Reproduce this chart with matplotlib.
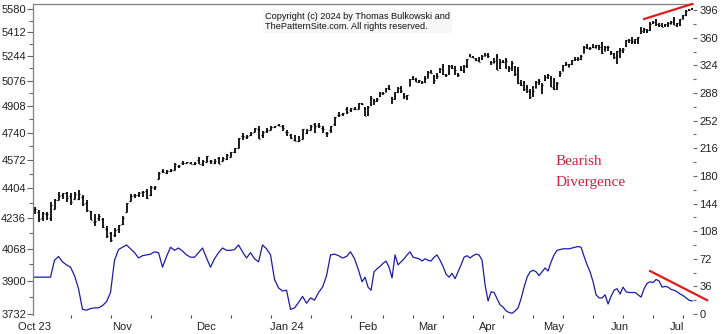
import numpy as np
import matplotlib
matplotlib.use('Agg')
import matplotlib.pyplot as plt
from matplotlib.ticker import FixedLocator, NullFormatter

plt.rcParams['font.family'] = ['Liberation Sans', 'DejaVu Sans']

# Month labels and number of trading days in each month
months = ['Oct 23', 'Nov', 'Dec', 'Jan 24', 'Feb', 'Mar', 'Apr', 'May', 'Jun', 'Jul']
month_days = [22, 21, 20, 21, 20, 20, 22, 22, 19, 6]

# Daily OHLC of the index, Oct 2023 to Jul 2024
opens = [
    4284, 4269, 4234, 4259, 4234, 4289, 4339, 4367, 4380, 4360, 4342, 4346, 4357, 4322, 4273, 4211, 4236, 4232, 4176, 4153, 4140, 4172,
    4201, 4269, 4334, 4365, 4366, 4385, 4391, 4365, 4406, 4458, 4505, 4497, 4509, 4512, 4539, 4553, 4555, 4555, 4546, 4571, 4548,
    4560, 4564, 4557, 4587, 4568, 4577, 4593, 4618, 4646, 4721, 4715, 4725, 4744, 4764, 4725, 4753, 4758, 4774, 4786, 4783,
    4746, 4725, 4697, 4690, 4703, 4741, 4760, 4793, 4791, 4772, 4739, 4760, 4796, 4854, 4856, 4888, 4886, 4888, 4893, 4925, 4899,
    4862, 4916, 4950, 4951, 4974, 4995, 5004, 5026, 4968, 4976, 5004, 5031, 4989, 4963, 5039, 5100, 5093, 5074, 5067, 5085,
    5098, 5131, 5110, 5108, 5132, 5173, 5112, 5134, 5173, 5175, 5124, 5154, 5139, 5182, 5254, 5243, 5219, 5228, 5226, 5248,
    5258, 5204, 5194, 5244, 5159, 5211, 5226, 5158, 5172, 5171, 5149, 5064, 5068, 5032, 5006, 4988, 5029, 5084, 5019, 5084, 5114, 5098,
    5030, 5050, 5122, 5142, 5187, 5170, 5189, 5225, 5233, 5221, 5263, 5310, 5303, 5305, 5298, 5320, 5340, 5281, 5315, 5278, 5260, 5244,
    5284, 5275, 5315, 5357, 5343, 5341, 5353, 5409, 5441, 5424, 5431, 5477, 5499, 5466, 5459, 5460, 5460, 5473, 5499,
    5471, 5461, 5507, 5537, 5572, 5585]
highs = [
    4300, 4281, 4268, 4267, 4324, 4341, 4385, 4378, 4386, 4378, 4383, 4394, 4364, 4340, 4276, 4256, 4259, 4233, 4191, 4156, 4178, 4194,
    4245, 4319, 4374, 4372, 4386, 4391, 4400, 4418, 4421, 4503, 4521, 4511, 4521, 4557, 4542, 4568, 4560, 4562, 4562, 4588, 4570,
    4599, 4574, 4579, 4590, 4590, 4610, 4623, 4644, 4709, 4738, 4726, 4747, 4768, 4779, 4748, 4772, 4785, 4785, 4793, 4789,
    4755, 4730, 4727, 4721, 4764, 4765, 4790, 4799, 4803, 4782, 4745, 4784, 4842, 4869, 4866, 4903, 4898, 4906, 4929, 4932, 4906,
    4911, 4975, 4957, 4964, 5000, 5003, 5030, 5048, 4971, 5003, 5032, 5039, 4994, 4983, 5088, 5111, 5097, 5080, 5077, 5105,
    5140, 5149, 5114, 5127, 5165, 5190, 5125, 5180, 5180, 5179, 5128, 5176, 5180, 5225, 5261, 5246, 5230, 5236, 5249, 5264,
    5263, 5208, 5228, 5256, 5222, 5219, 5228, 5178, 5212, 5175, 5168, 5079, 5077, 5046, 5020, 5038, 5077, 5089, 5058, 5114, 5123, 5111,
    5096, 5070, 5140, 5181, 5200, 5191, 5215, 5240, 5237, 5250, 5311, 5325, 5306, 5325, 5324, 5323, 5342, 5311, 5315, 5282, 5262, 5280,
    5303, 5298, 5354, 5362, 5375, 5365, 5376, 5447, 5442, 5432, 5488, 5490, 5506, 5479, 5478, 5472, 5483, 5491, 5524,
    5480, 5509, 5539, 5570, 5583, 5590]
lows = [
    4260, 4216, 4220, 4225, 4219, 4284, 4339, 4345, 4325, 4311, 4342, 4339, 4303, 4269, 4223, 4190, 4220, 4182, 4127, 4103, 4132, 4153,
    4197, 4269, 4334, 4347, 4353, 4355, 4344, 4359, 4394, 4458, 4495, 4488, 4500, 4510, 4525, 4545, 4552, 4546, 4540, 4547, 4538,
    4558, 4546, 4551, 4547, 4565, 4574, 4593, 4615, 4643, 4694, 4700, 4721, 4743, 4698, 4709, 4736, 4758, 4768, 4781, 4752,
    4722, 4700, 4687, 4682, 4699, 4730, 4756, 4740, 4769, 4740, 4715, 4740, 4785, 4840, 4844, 4860, 4869, 4881, 4888, 4917, 4845,
    4846, 4907, 4918, 4939, 4969, 4983, 5000, 5016, 4920, 4952, 4998, 4998, 4955, 4946, 5039, 5082, 5068, 5058, 5057, 5061,
    5094, 5127, 5056, 5091, 5131, 5117, 5102, 5115, 5155, 5117, 5104, 5145, 5131, 5161, 5240, 5229, 5213, 5203, 5214, 5246,
    5229, 5185, 5194, 5146, 5157, 5198, 5158, 5138, 5139, 5107, 5052, 5039, 5007, 4998, 4953, 4969, 5027, 5047, 4990, 5073, 5089, 5035,
    5013, 5012, 5103, 5142, 5178, 5166, 5182, 5208, 5211, 5217, 5263, 5296, 5284, 5300, 5297, 5287, 5257, 5279, 5280, 5250, 5222, 5191,
    5234, 5266, 5304, 5335, 5331, 5331, 5327, 5402, 5404, 5403, 5420, 5468, 5455, 5452, 5447, 5446, 5451, 5468, 5460,
    5446, 5458, 5507, 5531, 5563, 5574]
closes = [
    4288, 4229, 4263, 4258, 4308, 4336, 4358, 4377, 4350, 4327, 4374, 4373, 4314, 4278, 4224, 4217, 4248, 4186, 4137, 4117, 4167, 4194,
    4238, 4318, 4358, 4365, 4378, 4383, 4347, 4415, 4412, 4496, 4503, 4509, 4514, 4547, 4538, 4557, 4559, 4551, 4555, 4551, 4568,
    4595, 4569, 4567, 4549, 4585, 4604, 4622, 4644, 4707, 4720, 4719, 4741, 4768, 4698, 4747, 4755, 4775, 4781, 4783, 4770,
    4743, 4705, 4689, 4697, 4764, 4757, 4783, 4780, 4784, 4766, 4739, 4781, 4840, 4851, 4865, 4869, 4895, 4891, 4928, 4925, 4846,
    4906, 4959, 4943, 4954, 4995, 4998, 5027, 5022, 4953, 5001, 5030, 5006, 4976, 4982, 5087, 5089, 5070, 5078, 5070, 5096,
    5137, 5131, 5079, 5105, 5157, 5124, 5117, 5175, 5165, 5150, 5117, 5149, 5179, 5225, 5241, 5234, 5218, 5204, 5248, 5254,
    5243, 5205, 5211, 5147, 5204, 5202, 5210, 5161, 5199, 5123, 5062, 5051, 5022, 5011, 4967, 5010, 5070, 5072, 5048, 5100, 5116, 5036,
    5018, 5064, 5128, 5181, 5187, 5188, 5214, 5223, 5221, 5247, 5308, 5297, 5303, 5308, 5321, 5307, 5268, 5305, 5306, 5267, 5236, 5278,
    5283, 5291, 5354, 5353, 5347, 5361, 5375, 5421, 5434, 5431, 5473, 5487, 5473, 5465, 5448, 5469, 5478, 5483, 5460,
    5475, 5509, 5537, 5567, 5572, 5577]

# Oscillator (right scale)
osc = [
    48, 48, 48, 48, 48, 70, 75, 68, 64, 61, 50, 33, 6, 5, 7, 8, 8, 11, 16, 28,
    70, 84, 87, 90, 85, 80, 73, 76, 77, 78, 81, 80, 61, 75, 87, 83, 86, 82, 77, 74,
    74, 80, 86, 73, 61, 72, 80, 86, 83, 83, 84, 90, 81, 73, 80, 72, 68, 90, 85, 77,
    45, 34, 30, 31, 6, 8, 15, 23, 14, 21, 18, 28, 35, 50, 77, 78, 76, 73, 75, 81,
    72, 57, 42, 48, 35, 31, 55, 59, 62, 66, 69, 61, 47, 77, 64, 68, 72, 77, 81, 74,
    73, 72, 69, 72, 70, 69, 74, 77, 70, 62, 52, 48, 53, 46, 55, 64, 74, 76, 73, 76,
    78, 77, 70, 38, 17, 29, 28, 20, 12, 9, 4, 2, 1, 4, 8, 20, 35, 48, 55, 57,
    55, 50, 55, 60, 56, 68, 77, 83, 84, 85, 85, 85, 86, 87, 88, 87, 75, 64, 55, 42,
    25, 21, 21, 25, 13, 23, 31, 33, 26, 35, 29, 28, 28, 28, 25, 22, 33, 40, 42, 41,
    45, 43, 35, 36, 35, 32, 31, 29, 26, 24, 21, 18, 17]

price_ticks = [3732, 3900, 4068, 4236, 4404, 4572, 4740, 4908, 5076, 5244, 5412, 5580]
osc_ticks = [0, 36, 72, 108, 144, 180, 216, 252, 288, 324, 360, 396]

# divergence trend lines: bar index and value at each end
div_price_x = [176, 192]
div_price_y = [5507, 5617]
div_osc_x = [178, 197]
div_osc_y = [56, 18]

n = len(closes)
idx = np.arange(n)
month_starts = np.concatenate([[0], np.cumsum(month_days)[:-1]])

# bars after the start of February are packed tighter (3 px instead of 4 px)
KINK = 81.5
SQUEEZE = 0.75


def fwd(x):
    x = np.asarray(x, dtype=float)
    return np.where(x < KINK, x, KINK + (x - KINK) * SQUEEZE)


def inv(y):
    y = np.asarray(y, dtype=float)
    return np.where(y < KINK, y, KINK + (y - KINK) / SQUEEZE)


fig = plt.figure(figsize=(7.25, 3.34), dpi=100)
ax = fig.add_axes([33 / 725, 19 / 334, 660 / 725, 311 / 334])
ax.set_xscale('function', functions=(fwd, inv))
ax.set_yscale('log')

# OHLC bars
ax.vlines(idx, lows, highs, color='black', lw=1.25)
ax.hlines(opens, idx - 0.35, idx, color='black', lw=0.9)
ax.hlines(closes, idx, idx + 0.35, color='black', lw=0.9)
ax.plot(div_price_x, div_price_y, color='#e01c1c', lw=1.6, clip_on=False, zorder=5)

ax.set_xlim(-0.375, 192.3)
ax.set_ylim(3727, 5617)

ax.set_yticks(price_ticks, labels=[str(v) for v in price_ticks])
mids = [(a + b) / 2 for a, b in zip(price_ticks[:-1], price_ticks[1:])]
ax.yaxis.set_minor_locator(FixedLocator(mids))
ax.yaxis.set_minor_formatter(NullFormatter())
ax.tick_params(axis='y', which='major', length=4, width=0.8, color='#666666',
               labelsize=8, labelcolor='#222222', pad=1)
ax.tick_params(axis='y', which='minor', length=3, width=0.8, color='#666666')

ax.set_xticks(np.arange(9, n, 10), labels=[''] * len(np.arange(9, n, 10)))
ax.set_xticks(month_starts, labels=months, minor=True)
ax.tick_params(axis='x', which='major', length=2, width=0.8, color='#444444')
ax.tick_params(axis='x', which='minor', length=0, labelsize=8, labelcolor='#222222', pad=5)

for side in ['right', 'bottom']:
    ax.spines[side].set_visible(False)
for side in ['top', 'left']:
    ax.spines[side].set_color('#808080')
    ax.spines[side].set_linewidth(0.9)

# oscillator on its own right-hand scale
ax2 = ax.twinx()
ax2.plot(idx, osc, color='#1c1ca8', lw=0.9)
ax2.plot(div_osc_x, div_osc_y, color='#e01c1c', lw=1.6, clip_on=False, zorder=5)
ax2.set_ylim(-1.3, 404)
ax2.set_yticks(osc_ticks, labels=[str(v) for v in osc_ticks])
ax2.yaxis.set_minor_locator(FixedLocator([v + 18 for v in osc_ticks[:-1]]))
ax2.yaxis.set_minor_formatter(NullFormatter())
ax2.tick_params(axis='y', which='major', length=3, width=0.8, color='#666666',
                labelsize=8, labelcolor='#222222', pad=1.5)
ax2.tick_params(axis='y', which='minor', length=2, width=0.8, color='#666666')
for side in ax2.spines:
    ax2.spines[side].set_visible(False)

fig.text(265 / 725, 1 - 12 / 334,
         'Copyright (c) 2024 by Thomas Bulkowski and\nThePatternSite.com. All rights reserved.',
         fontsize=6.6, va='top', ha='left', linespacing=1.15, color='#111111',
         bbox=dict(facecolor='#f7f7f7', edgecolor='none', pad=1.5))

fig.text(556 / 725, 1 - 165 / 334, 'Bearish', family='Liberation Serif',
         fontsize=11, color='#d0203a', va='baseline')
fig.text(556 / 725, 1 - 186 / 334, 'Divergence', family='Liberation Serif',
         fontsize=11, color='#d0203a', va='baseline')

fig.savefig('out.png', dpi=100)
